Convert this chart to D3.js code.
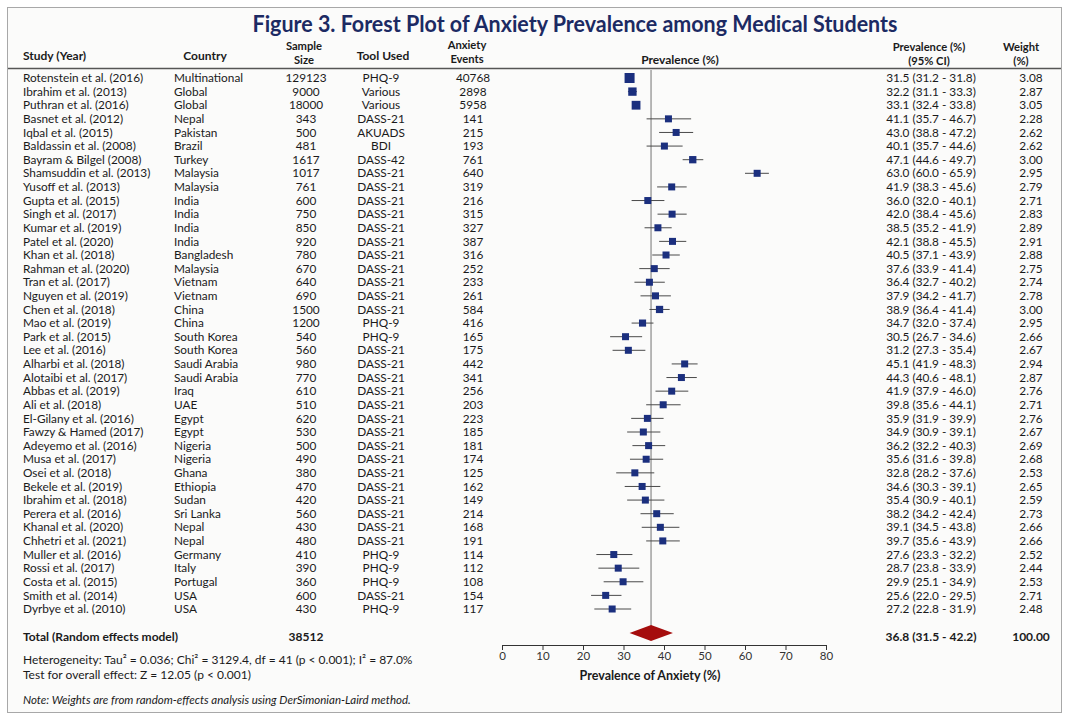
<!DOCTYPE html>
<html>
<head>
<meta charset="utf-8">
<script src="https://cdn.jsdelivr.net/npm/d3@7"></script>
<style>
  html, body { margin: 0; padding: 0; background: #ffffff; }
  svg { display: block; font-family: Lato, "Open Sans", sans-serif; }
</style>
</head>
<body>
<svg id="chart" width="1069" height="718"></svg>
<script>
// ---- Study data ----
const studies = [
  "Rotenstein et al. (2016)", "Ibrahim et al. (2013)", "Puthran et al. (2016)", "Basnet et al. (2012)",
  "Iqbal et al. (2015)", "Baldassin et al. (2008)", "Bayram & Bilgel (2008)", "Shamsuddin et al. (2013)",
  "Yusoff et al. (2013)", "Gupta et al. (2015)", "Singh et al. (2017)", "Kumar et al. (2019)",
  "Patel et al. (2020)", "Khan et al. (2018)", "Rahman et al. (2020)", "Tran et al. (2017)",
  "Nguyen et al. (2019)", "Chen et al. (2018)", "Mao et al. (2019)", "Park et al. (2015)",
  "Lee et al. (2016)", "Alharbi et al. (2018)", "Alotaibi et al. (2017)", "Abbas et al. (2019)",
  "Ali et al. (2018)", "El-Gilany et al. (2016)", "Fawzy & Hamed (2017)", "Adeyemo et al. (2016)",
  "Musa et al. (2017)", "Osei et al. (2018)", "Bekele et al. (2019)", "Ibrahim et al. (2018)",
  "Perera et al. (2016)", "Khanal et al. (2020)", "Chhetri et al. (2021)", "Muller et al. (2016)",
  "Rossi et al. (2017)", "Costa et al. (2015)", "Smith et al. (2014)", "Dyrbye et al. (2010)"
];
const countries = [
  "Multinational", "Global", "Global", "Nepal", "Pakistan", "Brazil", "Turkey", "Malaysia",
  "Malaysia", "India", "India", "India", "India", "Bangladesh", "Malaysia", "Vietnam",
  "Vietnam", "China", "China", "South Korea", "South Korea", "Saudi Arabia", "Saudi Arabia", "Iraq",
  "UAE", "Egypt", "Egypt", "Nigeria", "Nigeria", "Ghana", "Ethiopia", "Sudan",
  "Sri Lanka", "Nepal", "Nepal", "Germany", "Italy", "Portugal", "USA", "USA"
];
const sampleSizes = [
  129123, 9000, 18000, 343, 500, 481, 1617, 1017, 761, 600, 750, 850, 920, 780, 670, 640,
  690, 1500, 1200, 540, 560, 980, 770, 610, 510, 620, 530, 500, 490, 380, 470, 420,
  560, 430, 480, 410, 390, 360, 600, 430
];
const tools = [
  "PHQ-9", "Various", "Various", "DASS-21", "AKUADS", "BDI", "DASS-42", "DASS-21",
  "DASS-21", "DASS-21", "DASS-21", "DASS-21", "DASS-21", "DASS-21", "DASS-21", "DASS-21",
  "DASS-21", "DASS-21", "PHQ-9", "PHQ-9", "DASS-21", "DASS-21", "DASS-21", "DASS-21",
  "DASS-21", "DASS-21", "DASS-21", "DASS-21", "DASS-21", "DASS-21", "DASS-21", "DASS-21",
  "DASS-21", "DASS-21", "DASS-21", "PHQ-9", "PHQ-9", "PHQ-9", "DASS-21", "PHQ-9"
];
const events = [
  40768, 2898, 5958, 141, 215, 193, 761, 640, 319, 216, 315, 327, 387, 316, 252, 233,
  261, 584, 416, 165, 175, 442, 341, 256, 203, 223, 185, 181, 174, 125, 162, 149,
  214, 168, 191, 114, 112, 108, 154, 117
];
const prevalence = [
  31.5, 32.2, 33.1, 41.1, 43.0, 40.1, 47.1, 63.0, 41.9, 36.0, 42.0, 38.5, 42.1, 40.5, 37.6, 36.4,
  37.9, 38.9, 34.7, 30.5, 31.2, 45.1, 44.3, 41.9, 39.8, 35.9, 34.9, 36.2, 35.6, 32.8, 34.6, 35.4,
  38.2, 39.1, 39.7, 27.6, 28.7, 29.9, 25.6, 27.2
];
const ciLower = [
  31.2, 31.1, 32.4, 35.7, 38.8, 35.7, 44.6, 60.0, 38.3, 32.0, 38.4, 35.2, 38.8, 37.1, 33.9, 32.7,
  34.2, 36.4, 32.0, 26.7, 27.3, 41.9, 40.6, 37.9, 35.6, 31.9, 30.9, 32.2, 31.6, 28.2, 30.3, 30.9,
  34.2, 34.5, 35.6, 23.3, 23.8, 25.1, 22.0, 22.8
];
const ciUpper = [
  31.8, 33.3, 33.8, 46.7, 47.2, 44.6, 49.7, 65.9, 45.6, 40.1, 45.6, 41.9, 45.5, 43.9, 41.4, 40.2,
  41.7, 41.4, 37.4, 34.6, 35.4, 48.3, 48.1, 46.0, 44.1, 39.9, 39.1, 40.3, 39.8, 37.6, 39.1, 40.1,
  42.4, 43.8, 43.9, 32.2, 33.9, 34.9, 29.5, 31.9
];
const weights = [
  3.08, 2.87, 3.05, 2.28, 2.62, 2.62, 3.00, 2.95, 2.79, 2.71, 2.83, 2.89, 2.91, 2.88, 2.75, 2.74,
  2.78, 3.00, 2.95, 2.66, 2.67, 2.94, 2.87, 2.76, 2.71, 2.76, 2.67, 2.69, 2.68, 2.53, 2.65, 2.59,
  2.73, 2.66, 2.66, 2.52, 2.44, 2.53, 2.71, 2.48
];

// Pooled random-effects estimate
const pooledEvents = 38512;
const pooledEstimate = 36.8;
const pooledLower = 31.5;
const pooledUpper = 42.2;
const pooledWeight = 100.00;

const axisTicks = [0, 10, 20, 30, 40, 50, 60, 70, 80];

// ---- Layout ----
const W = 1069, H = 718;
const navy = "#1c2a63";
const textCol = "#1a1a1a";
const svg = d3.select("#chart");

// panel background and frame
svg.append("rect").attr("x", 7.5).attr("y", 7.5).attr("width", W - 15).attr("height", H - 13)
  .attr("fill", "#fbfbfa").attr("stroke", "#a8a8a8").attr("stroke-width", 1);

// title
const title = svg.append("text")
  .attr("x", 575).attr("y", 32)
  .attr("text-anchor", "middle")
  .attr("font-size", 22).attr("font-weight", 700)
  .attr("fill", navy)
  .text("Figure 3. Forest Plot of Anxiety Prevalence among Medical Students");
const tw = title.node().getComputedTextLength();
if (tw > 645) title.attr("textLength", 645).attr("lengthAdjust", "spacingAndGlyphs");

// column positions
const col = {
  study: 23, country: 174, sample: 306, tool: 381, events: 473,
  ci: 931, weight: 1031
};

// column headers: single-line labels sit on one baseline, two-line labels stack
const hdr = svg.append("g").attr("font-weight", 700).attr("fill", textCol);
function header(x, lines, anchor, yBase) {
  const multi = lines.length > 1;
  const t = hdr.append("text").attr("x", x)
    .attr("text-anchor", anchor || "middle")
    .attr("font-size", multi ? 11.2 : 12);
  lines.forEach((s, i) => {
    t.append("tspan").attr("x", x)
      .attr("y", (yBase !== undefined ? yBase : (multi ? 50 : 60)) + i * 13.5)
      .text(s);
  });
}
header(col.study, ["Study (Year)"], "start");
header(205, ["Country"]);
header(col.sample - 2, ["Sample", "Size"]);
header(col.tool + 2, ["Tool Used"]);
header(col.events - 6, ["Anxiety", "Events"], "middle", 49);
header(680, ["Prevalence (%)"], "middle", 64);
header(929, ["Prevalence (%)", "(95% CI)"], "middle", 51);
header(1021, ["Weight", "(%)"], "middle", 51);

// rule under the header
svg.append("line").attr("x1", 8).attr("x2", W - 8).attr("y1", 68.5).attr("y2", 68.5)
  .attr("stroke", "#555").attr("stroke-width", 1.4);

// scales
const idx = d3.range(studies.length);
const y = d3.scalePoint().domain(idx).range([78, 609]);
const x = d3.scaleLinear().domain([0, 80]).range([502, 826]);
const markSize = d3.scaleLog().domain([1000, 129123]).range([7, 10]).clamp(true);

// table rows
const rows = svg.append("g").attr("font-size", 11.8).attr("fill", textCol);
idx.forEach(i => {
  const yy = y(i);
  const g = rows.append("g").attr("transform", `translate(0,${yy})`);
  g.append("text").attr("x", col.study).attr("dy", "0.35em").text(studies[i]);
  g.append("text").attr("x", col.country).attr("dy", "0.35em").text(countries[i]);
  g.append("text").attr("x", col.sample).attr("dy", "0.35em").attr("text-anchor", "middle").text(sampleSizes[i]);
  g.append("text").attr("x", col.tool).attr("dy", "0.35em").attr("text-anchor", "middle").text(tools[i]);
  g.append("text").attr("x", col.events).attr("dy", "0.35em").attr("text-anchor", "middle").text(events[i]);
  g.append("text").attr("x", col.ci).attr("dy", "0.35em").attr("text-anchor", "middle")
    .text(`${prevalence[i].toFixed(1)} (${ciLower[i].toFixed(1)} - ${ciUpper[i].toFixed(1)})`);
  g.append("text").attr("x", col.weight).attr("dy", "0.35em").attr("text-anchor", "middle").text(weights[i].toFixed(2));
});

// pooled-estimate reference line
svg.append("line")
  .attr("x1", x(pooledEstimate)).attr("x2", x(pooledEstimate))
  .attr("y1", 70).attr("y2", 626)
  .attr("stroke", "#8a8a8a").attr("stroke-width", 1.2);

// confidence intervals
const plot = svg.append("g");
plot.selectAll("line.ci").data(idx).join("line").attr("class", "ci")
  .attr("x1", i => x(ciLower[i])).attr("x2", i => x(ciUpper[i]))
  .attr("y1", i => y(i)).attr("y2", i => y(i))
  .attr("stroke", "#4a4a4a").attr("stroke-width", 1);

// point estimates
plot.selectAll("rect.pt").data(idx).join("rect").attr("class", "pt")
  .attr("x", i => x(prevalence[i]) - markSize(sampleSizes[i]) / 2)
  .attr("y", i => y(i) - markSize(sampleSizes[i]) / 2)
  .attr("width", i => markSize(sampleSizes[i]))
  .attr("height", i => markSize(sampleSizes[i]))
  .attr("fill", "#1b2f7e");

// pooled diamond
const dy = 633, dh = 8;
svg.append("path")
  .attr("d", `M${x(pooledLower)},${dy} L${x(pooledEstimate)},${dy - dh} L${x(pooledUpper)},${dy} L${x(pooledEstimate)},${dy + dh} Z`)
  .attr("fill", "#a50d0d");

// x axis
const axis = svg.append("g").attr("transform", "translate(0,645)")
  .call(d3.axisBottom(x).tickValues(axisTicks).tickSize(5).tickSizeOuter(0).tickFormat(d3.format("d")));
axis.select(".domain").attr("stroke", "#333").attr("stroke-width", 1.2);
axis.selectAll(".tick line").attr("stroke", "#333");
axis.selectAll(".tick text").attr("font-size", 11.5).attr("font-family", "Lato, sans-serif").attr("fill", "#333")
  .attr("y", 7).attr("dy", "0.71em");

svg.append("text").attr("x", 650).attr("y", 680).attr("text-anchor", "middle")
  .attr("font-size", 12.5).attr("font-weight", 700).attr("fill", textCol)
  .text("Prevalence of Anxiety (%)");

// totals row
const tot = svg.append("g").attr("font-weight", 700).attr("fill", textCol).attr("font-size", 12);
tot.append("text").attr("x", col.study).attr("y", 641).text("Total (Random effects model)");
tot.append("text").attr("x", col.sample).attr("y", 641).attr("text-anchor", "middle").text(pooledEvents);
tot.append("text").attr("x", col.ci).attr("y", 641).attr("text-anchor", "middle")
  .text(`${pooledEstimate.toFixed(1)} (${pooledLower.toFixed(1)} - ${pooledUpper.toFixed(1)})`);
tot.append("text").attr("x", col.weight).attr("y", 641).attr("text-anchor", "middle").text(pooledWeight.toFixed(2));

// heterogeneity and test statistics
const stats = svg.append("g").attr("font-size", 12).attr("fill", textCol);
stats.append("text").attr("x", col.study).attr("y", 664)
  .text("Heterogeneity: Tau² = 0.036; Chi² = 3129.4, df = 41 (p < 0.001); I² = 87.0%");
stats.append("text").attr("x", col.study).attr("y", 679)
  .text("Test for overall effect: Z = 12.05 (p < 0.001)");
stats.append("text").attr("x", col.study).attr("y", 704).attr("font-style", "italic").attr("font-size", 11.5)
  .text("Note: Weights are from random-effects analysis using DerSimonian-Laird method.");
</script>
</body>
</html>
